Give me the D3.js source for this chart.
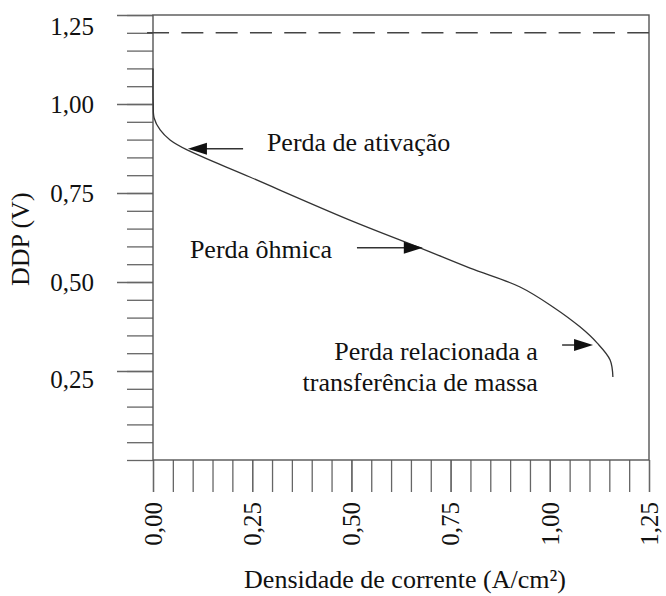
<!DOCTYPE html>
<html>
<head>
<meta charset="utf-8">
<script src="https://cdn.jsdelivr.net/npm/d3@7"></script>
<style>
  html, body { margin: 0; padding: 0; background: #fff; }
  svg { display: block; }
  svg text { font-family: "Liberation Serif", "DejaVu Serif", "Noto Serif", serif; }
</style>
</head>
<body>
<div id="chart"></div>
<script>
// Polarization curve (DDP vs current density)
const currentDensity = [0, 0.0005, 0.003, 0.018, 0.043, 0.086, 0.244, 0.496, 0.673, 0.799, 0.925, 1.008, 1.076, 1.119, 1.152, 1.159];
const cellVoltage    = [1.10, 1.00, 0.96, 0.927, 0.899, 0.871, 0.795, 0.674, 0.596, 0.539, 0.486, 0.430, 0.374, 0.329, 0.281, 0.233];
const theoreticalVoltage = 1.20;
const xMajorTicks = [0, 0.25, 0.5, 0.75, 1.0, 1.25];
const yMajorTicks = [0.25, 0.5, 0.75, 1.0, 1.25];
const minorTicks = d3.range(0, 26).map(i => +(i * 0.05).toFixed(2));

// annotation labels + arrow (tip / tail) in data units
const annotLabels = ["Perda de ativação", "Perda ôhmica", "Perda relacionada a|transferência de massa"];
const arrowTips   = [[0.088, 0.874], [0.680, 0.596], [1.109, 0.323]];
const arrowTails  = [[0.227, 0.874], [0.514, 0.596], [1.031, 0.323]];

const width = 666, height = 596;
const margin = { top: 15, right: 17, bottom: 136, left: 153 };

const svg = d3.select("#chart").append("svg")
    .attr("width", width)
    .attr("height", height);

const x = d3.scaleLinear().domain([0, 1.25]).range([margin.left, width - margin.right]);
const y = d3.scaleLinear().domain([0, 1.25]).range([height - margin.bottom, margin.top]);

const fmt = d => d3.format(".2f")(d).replace(".", ",");
const axisColor = "#666";

// minor y ticks
const yMinor = svg.append("g")
    .attr("transform", `translate(${x(0)},0)`)
    .call(d3.axisLeft(y).tickValues(minorTicks).tickSize(26).tickFormat(""));
// major y ticks + labels
const yMajor = svg.append("g")
    .attr("transform", `translate(${x(0)},0)`)
    .call(d3.axisLeft(y).tickValues(yMajorTicks).tickSize(36).tickPadding(23).tickFormat(fmt));
yMajor.selectAll("text")
    .attr("dy", d => d === 1.25 ? "0.78em" : (d === 0.25 ? "0.65em" : "0.32em"));

// x ticks (downwards)
const xMinor = svg.append("g")
    .attr("transform", `translate(0,${y(0)})`)
    .call(d3.axisBottom(x).tickValues(minorTicks).tickSize(32).tickFormat(""));
const xMajor = svg.append("g")
    .attr("transform", `translate(0,${y(0)})`)
    .call(d3.axisBottom(x).tickValues(xMajorTicks).tickSize(32).tickFormat(fmt));
xMajor.selectAll("text")
    .attr("transform", "rotate(-90)")
    .attr("text-anchor", "end")
    .attr("x", -42)
    .attr("y", 0)
    .attr("dy", "0.33em");

[yMinor, yMajor, xMinor, xMajor].forEach(g => {
    g.select(".domain").remove();
    g.attr("font-family", null).attr("font-size", null);
    g.selectAll("line").attr("stroke", axisColor).attr("stroke-width", 1.3);
    g.selectAll("text").attr("font-size", 25).attr("fill", "#111");
});

// frame
svg.append("rect")
    .attr("x", x(0)).attr("y", y(1.25))
    .attr("width", x(1.25) - x(0)).attr("height", y(0) - y(1.25))
    .attr("fill", "none").attr("stroke", "#555").attr("stroke-width", 1.4);

// theoretical voltage (dashed)
svg.append("line")
    .attr("x1", x(-0.015)).attr("x2", x(1.25))
    .attr("y1", y(theoreticalVoltage)).attr("y2", y(theoreticalVoltage))
    .attr("stroke", "#444").attr("stroke-width", 1.6)
    .attr("stroke-dasharray", "22,12.3");

// polarization curve
const pts = currentDensity.map((c, i) => [c, cellVoltage[i]]);
svg.append("path")
    .datum(pts)
    .attr("fill", "none")
    .attr("stroke", "#333")
    .attr("stroke-width", 1.3)
    .attr("d", d3.line().x(d => x(d[0])).y(d => y(d[1])).curve(d3.curveCatmullRom.alpha(0.5)));

// arrows
arrowTips.forEach((tip, i) => {
    const tail = arrowTails[i];
    const tx = x(tip[0]), ty = y(tip[1]);
    const sx = x(tail[0]), sy = y(tail[1]);
    const dir = Math.sign(tx - sx);
    svg.append("line")
        .attr("x1", sx).attr("y1", sy).attr("x2", tx - dir * 12).attr("y2", ty)
        .attr("stroke", "#333").attr("stroke-width", 1.5);
    svg.append("path")
        .attr("d", `M${tx},${ty} L${tx - dir * 19},${ty - 6} L${tx - dir * 19},${ty + 6} Z`)
        .attr("fill", "#111");
});

// annotation texts
const annot = svg.append("g").attr("font-size", 26).attr("fill", "#111");
annot.append("text").attr("x", x(0.287)).attr("y", y(0.868)).text(annotLabels[0]);
annot.append("text").attr("x", x(0.093)).attr("y", y(0.567)).text(annotLabels[1]);
annotLabels[2].split("|").forEach((line, i) => {
    annot.append("text")
        .attr("x", x(0.970))
        .attr("y", y(0.281) + i * 31)
        .attr("text-anchor", "end")
        .text(line);
});

// axis titles
svg.append("text")
    .attr("transform", `translate(29,${y(0.62)}) rotate(-90)`)
    .attr("text-anchor", "middle")
    .attr("font-size", 26).attr("fill", "#111")
    .text("DDP (V)");

svg.append("text")
    .attr("x", x(0.625) + 4)
    .attr("y", 588)
    .attr("text-anchor", "middle")
    .attr("font-size", 26).attr("fill", "#111")
    .text("Densidade de corrente (A/cm²)");
</script>
</body>
</html>
